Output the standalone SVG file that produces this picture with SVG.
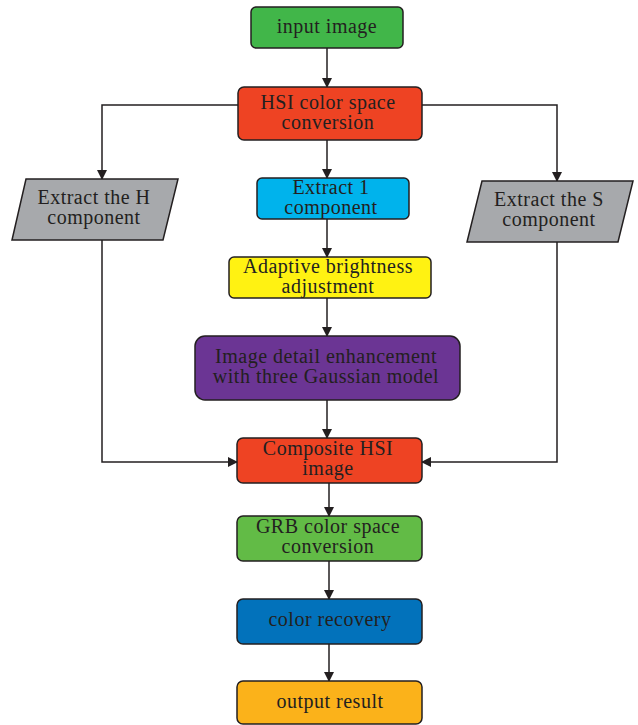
<svg xmlns="http://www.w3.org/2000/svg" width="638" height="725" viewBox="0 0 638 725">
<defs>
<marker id="ah" markerWidth="10" markerHeight="10" refX="9" refY="5" orient="auto" markerUnits="userSpaceOnUse" viewBox="0 0 10 10">
<path d="M0,0 L10,5 L0,10 z" fill="#231f20"/>
</marker>
<style>
.box{stroke:#231f20;stroke-width:1.5}
.t{font-family:"Liberation Serif","Times New Roman",serif;font-size:20px;letter-spacing:0.5px;fill:#231f20;text-anchor:middle}
.c{fill:none;stroke:#231f20;stroke-width:1.5;marker-end:url(#ah)}
</style>
</defs>
<rect width="638" height="725" fill="#ffffff"/>
<g id="connectors">
<path class="c" d="M327,48 V87"/>
<path class="c" d="M238,105 H102 V179"/>
<path class="c" d="M422,105 H557 V181"/>
<path class="c" d="M327,140 V178"/>
<path class="c" d="M327,219 V257"/>
<path class="c" d="M327,298 V336"/>
<path class="c" d="M327,400 V438"/>
<path class="c" d="M102,240 V462 H237"/>
<path class="c" d="M557,242 V462 H422"/>
<path class="c" d="M329,483 V516"/>
<path class="c" d="M329,561 V599"/>
<path class="c" d="M329,644 V681"/>
</g>
<g id="input">
<rect class="box" x="251" y="7" width="152" height="41" rx="5" fill="#41b649"/>
<text class="t" x="327" y="33">input image</text>
</g>
<g id="hsi">
<rect class="box" x="238" y="87" width="184" height="53" rx="6" fill="#ee4323"/>
<text class="t" x="328" y="109">HSI color space</text>
<text class="t" x="328" y="129">conversion</text>
</g>
<g id="extractH">
<polygon class="box" points="26,179 178,179 163,240 12,240" fill="#a7a9ac"/>
<text class="t" x="94" y="204">Extract the H</text>
<text class="t" x="94" y="224">component</text>
</g>
<g id="extractS">
<polygon class="box" points="482,181 633,181 618,242 467,242" fill="#a7a9ac"/>
<text class="t" x="549" y="206">Extract the S</text>
<text class="t" x="549" y="226">component</text>
</g>
<g id="extractI">
<rect class="box" x="257" y="178" width="152" height="41" rx="5" fill="#00b3ec"/>
<text class="t" x="331" y="194">Extract 1</text>
<text class="t" x="331" y="214">component</text>
</g>
<g id="adaptive">
<rect class="box" x="229" y="257" width="202" height="41" rx="5" fill="#fff212"/>
<text class="t" x="328" y="273">Adaptive brightness</text>
<text class="t" x="328" y="293">adjustment</text>
</g>
<g id="detail">
<rect class="box" x="195" y="336" width="265" height="64" rx="10" fill="#6b3594"/>
<text class="t" x="326" y="363">Image detail enhancement</text>
<text class="t" x="326" y="383">with three Gaussian model</text>
</g>
<g id="composite">
<rect class="box" x="237" y="438" width="185" height="45" rx="6" fill="#ee4323"/>
<text class="t" x="328" y="455">Composite HSI</text>
<text class="t" x="328" y="475">image</text>
</g>
<g id="grb">
<rect class="box" x="237" y="516" width="185" height="45" rx="6" fill="#62bb46"/>
<text class="t" x="328" y="533">GRB color space</text>
<text class="t" x="328" y="553">conversion</text>
</g>
<g id="recovery">
<rect class="box" x="237" y="599" width="185" height="45" rx="6" fill="#0272bb"/>
<text class="t" x="330" y="626">color recovery</text>
</g>
<g id="output">
<rect class="box" x="237" y="681" width="185" height="43" rx="6" fill="#fbb21a"/>
<text class="t" x="330" y="708">output result</text>
</g>
</svg>
